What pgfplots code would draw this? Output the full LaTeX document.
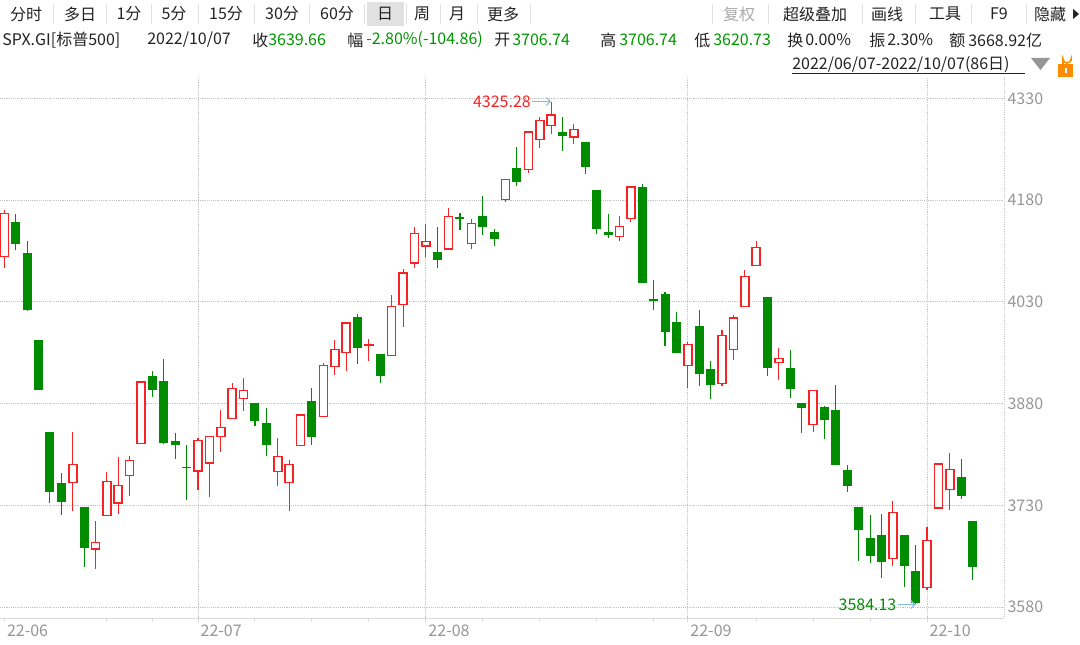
\documentclass[border=0pt]{standalone}
\usepackage{fontspec}
\setmainfont{Noto Sans CJK SC}
\usepackage{pgfplots}
\pgfplotsset{compat=1.18}
\usepackage{pgfplotstable}
\usetikzlibrary{arrows.meta}
\definecolor{rc}{RGB}{245,35,35}
\definecolor{gc}{RGB}{0,140,0}
\definecolor{gtxt}{RGB}{0,150,0}
\definecolor{lbl}{RGB}{150,150,150}
\definecolor{gridc}{RGB}{195,195,195}
\definecolor{arr}{RGB}{130,190,215}
\definecolor{txt}{RGB}{35,35,35}
\definecolor{sep}{RGB}{225,225,225}

% i open high low close  (close >= open)
\pgfplotstableread{
i o h l c
0 4096.47 4164.86 4080.19 4160.68
6 3764.05 3837.56 3722.30 3789.99
8 3665.90 3707.71 3636.87 3674.84
9 3715.31 3779.65 3715.31 3764.79
10 3733.89 3801.79 3717.69 3759.89
11 3774.71 3802.58 3743.52 3795.73
12 3821.75 3913.65 3821.75 3911.74
17 3781.00 3829.82 3752.10 3825.33
18 3792.61 3832.19 3742.06 3831.39
19 3831.98 3870.91 3809.37 3845.08
20 3858.85 3910.63 3858.85 3902.62
21 3888.26 3918.50 3869.34 3899.38
24 3779.67 3829.44 3759.07 3801.78
25 3763.99 3796.41 3721.56 3790.38
26 3818.00 3863.62 3817.18 3863.16
28 3860.73 3939.81 3860.73 3936.69
29 3935.32 3974.13 3922.03 3959.90
30 3955.47 3999.29 3927.64 3998.95
32 3965.72 3975.30 3943.46 3966.84
34 3951.43 4039.56 3951.43 4023.61
35 4026.13 4078.95 3992.97 4072.43
36 4087.33 4140.15 4079.22 4130.29
37 4112.38 4144.95 4096.02 4118.63
39 4107.96 4167.66 4107.96 4155.17
41 4115.87 4151.58 4107.31 4145.19
44 4181.02 4211.03 4177.26 4210.24
46 4225.02 4280.47 4219.78 4280.15
47 4269.37 4301.79 4256.90 4297.14
48 4290.46 4325.28 4277.77 4305.20
50 4273.13 4292.53 4261.98 4283.74
54 4126.55 4156.56 4119.97 4140.77
55 4153.26 4200.54 4147.59 4199.12
60 3936.73 3970.23 3903.65 3966.85
63 3909.43 3987.89 3906.03 3979.87
64 3959.94 4010.50 3944.81 4006.18
65 4022.94 4076.81 4022.94 4067.36
66 4083.67 4119.28 4083.67 4110.41
68 3940.73 3961.94 3915.13 3946.01
71 3849.91 3900.45 3838.50 3899.89
78 3651.94 3736.74 3640.61 3719.04
81 3609.78 3698.35 3604.93 3678.43
82 3726.46 3791.92 3726.46 3790.93
83 3753.25 3806.91 3722.66 3783.28
}\redtab

% i open high low close  (close < open)
\pgfplotstableread{
i o h l c
1 4147.12 4160.14 4107.20 4115.77
2 4101.65 4119.10 4017.17 4017.82
3 3974.39 3974.39 3900.16 3900.86
4 3838.15 3838.15 3734.30 3749.63
5 3763.52 3778.18 3715.31 3735.48
7 3728.18 3728.18 3639.77 3666.77
13 3920.76 3927.72 3889.66 3900.11
14 3913.00 3945.86 3820.14 3821.55
15 3825.09 3836.50 3799.02 3818.83
16 3785.99 3818.99 3738.67 3785.38
22 3880.94 3880.94 3847.22 3854.43
23 3851.95 3873.41 3802.36 3818.80
27 3883.79 3902.44 3818.63 3830.85
31 4007.36 4012.44 3938.85 3961.63
33 3953.22 3953.22 3910.74 3921.05
38 4104.21 4140.47 4079.81 4091.19
40 4154.85 4161.29 4135.42 4151.94
42 4155.93 4186.62 4128.97 4140.06
43 4133.11 4137.30 4112.09 4122.47
45 4227.40 4257.91 4201.41 4207.27
49 4280.40 4302.18 4253.08 4274.04
51 4266.31 4266.31 4218.70 4228.48
52 4195.08 4195.08 4129.86 4137.99
53 4133.09 4159.77 4124.03 4128.73
56 4198.74 4203.04 4057.66 4057.66
57 4034.58 4062.99 4017.42 4030.61
58 4041.25 4044.98 3965.21 3986.16
59 4000.67 4015.37 3954.53 3955.00
61 3994.66 4018.43 3906.21 3924.26
62 3930.89 3942.55 3886.75 3908.19
67 4037.12 4037.12 3921.30 3932.69
69 3932.41 3959.14 3888.28 3901.35
70 3880.95 3880.95 3837.08 3873.33
72 3875.23 3876.01 3827.54 3855.93
73 3871.40 3907.07 3789.49 3789.93
74 3782.36 3790.20 3749.45 3757.99
75 3727.14 3727.14 3647.47 3693.23
76 3682.72 3715.67 3644.76 3655.04
77 3686.44 3717.53 3623.29 3647.29
79 3687.01 3687.01 3610.40 3640.47
80 3633.48 3671.44 3584.13 3585.62
84 3771.97 3797.93 3739.22 3744.52
85 3706.74 3706.74 3620.73 3639.66
}\greentab

\pgfplotsset{candle/.style={only marks, mark=*, mark size=0.01pt,
  mark options={draw opacity=0, fill opacity=0},
  error bars/.cd, y dir=plus, y explicit, error mark=none}}

\begin{document}
\begin{tikzpicture}[x=0.75pt,y=-0.75pt,font=\fontsize{12pt}{14pt}\selectfont]
\path[use as bounding box, fill=white] (0,0) rectangle (1080,645);

% ---- toolbar row ----
\fill[sep] (367,2) rectangle (404,26);
\foreach \s in {53,106,151,198,254,309,364,406,440,477,530,712,768,862,915,971,1026}
  \draw[sep, line width=0.75pt] (\s,4) -- (\s,24);
\foreach \xx/\t in {26/分时,80/多日,129/1分,174/5分,226/15分,282/30分,337/60分,385/日,422/周,457/月,503/更多,815/超级叠加,887/画线,945/工具,999/F9,1050/隐藏}
  \node[txt, inner sep=0pt] at (\xx,14) {\t};
\node[lbl!80, inner sep=0pt] at (739,14) {复权};
\fill[txt] (1073,9) -- (1079,14) -- (1073,19) -- cycle;

% ---- quote row ----
\begin{scope}[every node/.style={anchor=west, inner sep=0pt}]
\node[txt] at (2,40) {SPX.GI[标普500]};
\node[txt] at (147,40) {2022/10/07};
\node[txt] at (252,40) {收};
\node[gtxt] at (268,40) {3639.66};
\node[txt] at (347,40) {幅};
\node[gtxt] at (366,40) {-2.80\%(-104.86)};
\node[txt] at (494,40) {开};
\node[gtxt] at (512,40) {3706.74};
\node[txt] at (600,40) {高};
\node[gtxt] at (619,40) {3706.74};
\node[txt] at (694,40) {低};
\node[gtxt] at (713,40) {3620.73};
\node[txt] at (787,40) {换};
\node[txt] at (805,40) {0.00\%};
\node[txt] at (869,40) {振};
\node[txt] at (887,40) {2.30\%};
\node[txt] at (949,40) {额};
\node[txt] at (968,40) {3668.92亿};
% ---- range row ----
\node[txt] at (792,65) {2022/06/07-2022/10/07(86日)};
\end{scope}
\draw[txt, line width=0.75pt] (792,74) -- (1025,74);
\fill[lbl] (1031,58) -- (1050,58) -- (1040.5,70) -- cycle;
\draw[orange!90!yellow, line width=1.2pt] (1063,64) -- (1063,59) arc (180:0:4) -- (1071,61);
\fill[orange!90!yellow] (1058,64) rectangle (1073,77);
\fill[white] (1064.5,68) rectangle (1066.5,73);

% ---- axis frame lines ----
\draw[gridc!60, line width=0.75pt] (0,618) -- (1004,618);
\draw[gridc, densely dotted, line width=0.75pt] (1004,77) -- (1004,618);

\begin{axis}[
  at={(0pt,-463.5pt)}, anchor=south west,
  scale only axis, width=753pt, height=405.75pt,
  xmin=-0.384, xmax=87.76, ymin=3564.2, ymax=4361.4,
  axis line style={draw=none},
  xtick={17,37,60,81}, xticklabels={22-07,22-08,22-09,22-10},
  extra x ticks={0}, extra x tick labels={22-06}, extra x tick style={grid=none},
  minor xtick={9,13,22,27,32,42,47,52,57,66,71,76},
  xtick pos=bottom, xtick align=outside,
  major tick length=3pt, minor tick length=3pt,
  x tick style={gridc!60, line width=0.75pt},
  ytick={3580,3730,3880,4030,4180,4330},
  yticklabels={3580,3730,3880,4030,4180,4330},
  ytick pos=right, y tick style={draw=none},
  xmajorgrids, ymajorgrids,
  grid style={gridc, densely dotted, line width=0.75pt},
  yticklabel style={lbl, anchor=west, inner sep=0pt, xshift=2.5pt},
  xticklabel style={lbl, anchor=north west, inner sep=0pt, xshift=1.8pt, yshift=-2pt},
  tick label style={font=\fontsize{12pt}{14pt}\selectfont},
  clip=true,
]
% green wicks
\addplot[candle, error bar style={draw=gc, solid, line width=0.8pt}]
  table[x=i, y=l, y error expr=\thisrow{h}-\thisrow{l}] {\greentab};
% red wicks
\addplot[candle, error bar style={draw=rc, solid, line width=0.8pt}]
  table[x=i, y=l, y error expr=\thisrow{h}-\thisrow{l}] {\redtab};
% green bodies
\addplot[candle, error bar style={draw=gc, solid, line width=6.75pt}]
  table[x=i, y=c, y error expr={max(\thisrow{o}-\thisrow{c},1.3)}] {\greentab};
% red bodies outer
\addplot[candle, error bar style={draw=rc, solid, line width=7.2pt}]
  table[x=i, y expr=\thisrow{o}-1.0, y error expr=\thisrow{c}-\thisrow{o}+2.0] {\redtab};
% red bodies inner
\addplot[candle, error bar style={draw=white, solid, line width=4.8pt}]
  table[x=i, y expr=\thisrow{o}+0.8, y error expr={max(\thisrow{c}-\thisrow{o}-1.6,0)}] {\redtab};

% annotations
\draw[arr, line width=0.75pt, -{Straight Barb[length=3pt,width=6pt]}] (axis cs:46.33,4325.28) -- (axis cs:48,4325.28);
\node[rc, anchor=east, inner sep=0.75pt] at (axis cs:46.33,4325.28) {4325.28};
\draw[arr, line width=0.75pt, -{Straight Barb[length=3pt,width=6pt]}] (axis cs:78.42,3584.13) -- (axis cs:80,3584.13);
\node[gc, anchor=east, inner sep=0.75pt] at (axis cs:78.42,3584.13) {3584.13};
\end{axis}
\end{tikzpicture}
\end{document}
